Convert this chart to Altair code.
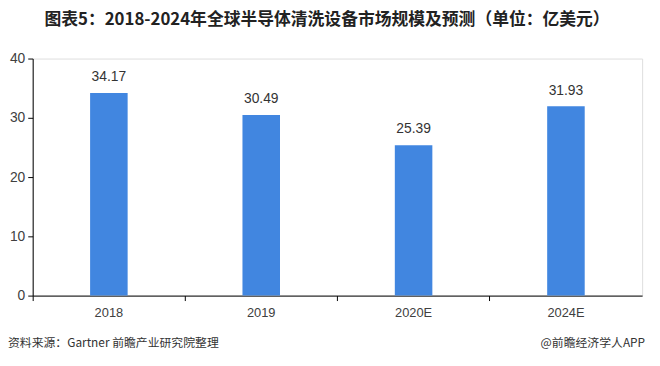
import altair as alt
import pandas as pd

categories = ["2018", "2019", "2020E", "2024E"]
values = [34.17, 30.49, 25.39, 31.93]
labels = ["34.17", "30.49", "25.39", "31.93"]

df = pd.DataFrame({"year": categories, "value": values, "label": labels})

FONT_CN = "Noto Sans CJK SC"
FONT = "Liberation Sans"

x = alt.X("year:N", sort=categories, title=None,
          scale=alt.Scale(paddingInner=0, paddingOuter=0),
          axis=alt.Axis(bandPosition=0, labelAngle=0, domainColor="#000000", tickColor="#000000",
                        tickSize=5, labelFont=FONT, labelFontSize=13, labelColor="#404040",
                        labelPadding=6, grid=False))
y = alt.Y("value:Q", title=None,
          scale=alt.Scale(domain=[0, 40]),
          axis=alt.Axis(values=[0, 10, 20, 30, 40], domainColor="#000000", tickColor="#000000",
                        tickSize=5, labelFont=FONT, labelFontSize=14, labelColor="#404040",
                        labelPadding=3, grid=False))

base = alt.Chart(df)
bars = base.mark_bar(size=38, color="#4186e0").encode(x=x, y=y)
text = base.mark_text(dy=-16, font=FONT, fontSize=14, color="#333333").encode(
    x=alt.X("year:N", sort=categories), y="value:Q", text="label:N")

title_df = pd.DataFrame({"t": ["图表5：2018-2024年全球半导体清洗设备市场规模及预测（单位：亿美元）"]})
title = alt.Chart(title_df).mark_text(font=FONT_CN, fontSize=17, fontWeight="bold",
                                      color="#222222", align="center", baseline="middle").encode(
    x=alt.value(298), y=alt.value(-39), text="t:N")

src_df = pd.DataFrame({"t": ["资料来源：Gartner 前瞻产业研究院整理"]})
src = alt.Chart(src_df).mark_text(font=FONT_CN, fontSize=12, color="#333333",
                                  align="left", baseline="middle").encode(
    x=alt.value(-25), y=alt.value(288), text="t:N")

app_df = pd.DataFrame({"t": ["@前瞻经济学人APP"]})
app = alt.Chart(app_df).mark_text(font=FONT_CN, fontSize=12, color="#333333",
                                  align="right", baseline="middle").encode(
    x=alt.value(620), y=alt.value(288), text="t:N")

chart = alt.layer(bars, text, title, src, app).properties(
    width=617, height=240,
    autosize=alt.AutoSizeParams(type="none"),
    padding={"left": 25, "top": 49, "right": 10, "bottom": 61},
).configure_view(stroke=None).configure(background="#ffffff")

chart.save("out.html", embed_options={"renderer": "svg", "actions": False})
